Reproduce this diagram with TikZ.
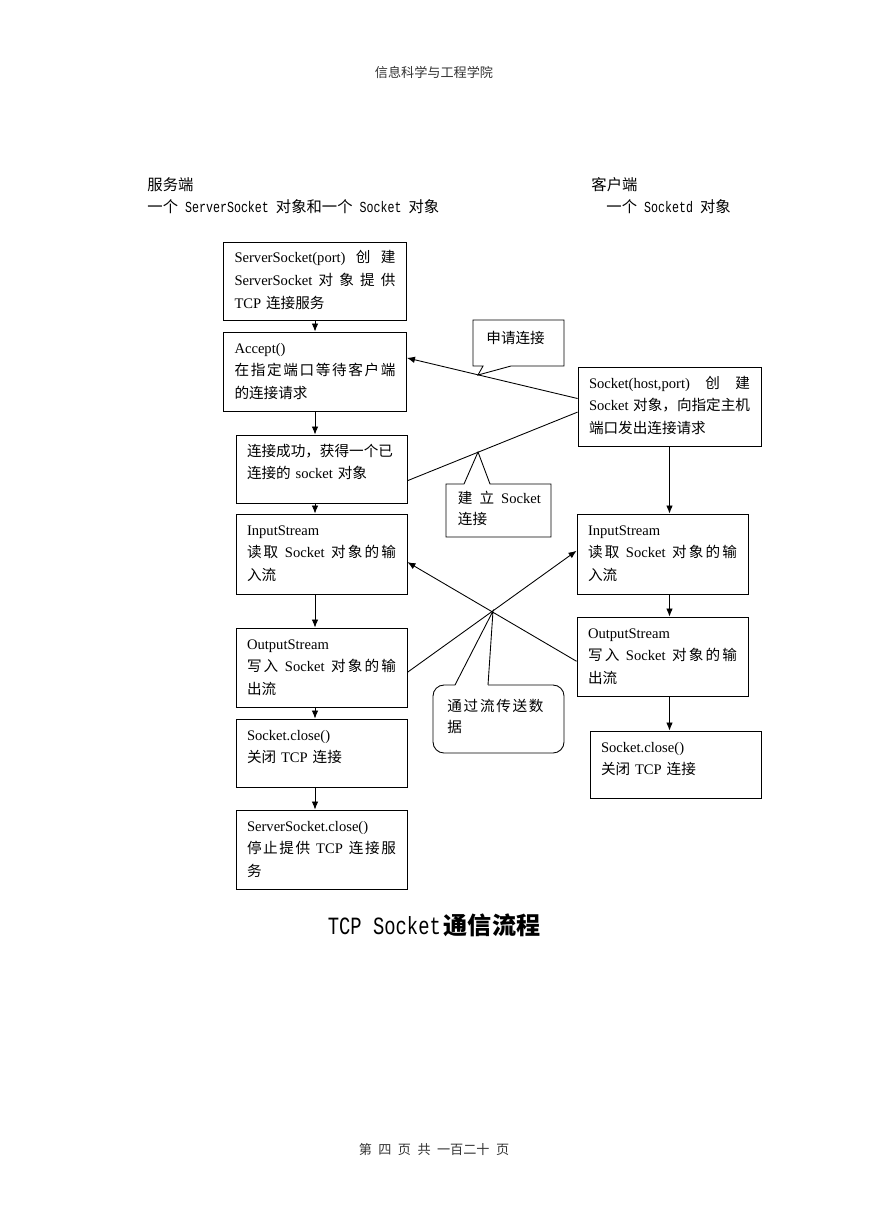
\documentclass[tikz,border=0pt]{standalone}
\usepackage{fontspec}
\setmainfont{Liberation Serif}
\newfontfamily\zhfont{Noto Sans CJK SC}
\newfontfamily\hdmono[FakeStretch=0.76]{Liberation Mono}
\usetikzlibrary{arrows.meta,calc}
\newdimen\px \px=0.685pt
\newcommand\zh[1]{{\zhfont #1}}
\newcommand\jl[1]{\makebox[\linewidth][s]{\spaceskip=0pt plus 1fil\xspaceskip=0pt plus 1fil\relax #1}}
\newcommand\wsp{\hspace{3pt plus 1fil}}

\begin{document}
\begin{tikzpicture}[x=0.685pt, y=-0.685pt, line width=0.6pt,
  box/.style={draw, inner xsep=11\px, inner ysep=0pt, text width=149\px, align=left,
    text height=21\px, font=\fontsize{10pt}{15.5pt}\selectfont},
  widebox/.style={box, text width=161\px},
  arr/.style={-{Latex[length=5.5pt,width=4.5pt]}},
  note/.style={inner sep=0pt, align=left, anchor=base west, font=\fontsize{10pt}{14.5pt}\selectfont},
  lbl/.style={inner sep=0pt, anchor=west, font=\fontsize{10.5pt}{12pt}\selectfont}]
\useasboundingbox (0,0) rectangle (869,1228);

% page head and foot
\node[inner sep=0pt, text=black!80, font=\fontsize{9pt}{11pt}\selectfont] (head) at (434,72) {\zh{信息科学与工程学院}};
\node[inner sep=0pt, text=black!80, font=\fontsize{9pt}{11pt}\selectfont] (foot) at (434,1149) {{\zhfont\spaceskip=4.4pt\relax 第 四 页 共 一百二十 页}};

% column heads
\node[lbl] (srvhead) at (147,185) {\zh{服务端}};
\node[lbl] (srvobj) at (147,207) {\zh{一个}{\hdmono\ ServerSocket\ }\zh{对象和一个}{\hdmono\ Socket\ }\zh{对象}};
\node[lbl] (clihead) at (591,185) {\zh{客户端}};
\node[lbl] (cliobj) at (606,207) {\zh{一个}{\hdmono\ Socketd\ }\zh{对象}};

% server side
\node[widebox, text depth=57\px] (srvnew) at (315,281) {\jl{ServerSocket(port) \zh{创} \zh{建}}\\ \jl{ServerSocket \zh{对 象 提 供}}\\ TCP \zh{连接服务}};
\node[widebox, text depth=58\px] (accept) at (315,371.5) {Accept()\\ \jl{\zh{在 指 定 端 口 等 待 客 户 端}}\\ \zh{的连接请求}};
\node[box, text depth=47\px] (conn) at (321.5,469) {\zh{连接成功，获得一个已}\\ \zh{连接的} socket \zh{对象}};
\node[box, text depth=59\px] (sin) at (321.5,554) {InputStream\\ \jl{\zh{读 取}\wsp Socket\wsp\zh{对 象 的 输}}\\ \zh{入流}};
\node[box, text depth=58\px] (sout) at (321.5,667.5) {OutputStream\\ \jl{\zh{写 入}\wsp Socket\wsp\zh{对 象 的 输}}\\ \zh{出流}};
\node[box, text depth=47\px] (sclose) at (321.5,753) {Socket.close()\\ \zh{关闭} TCP \zh{连接}};
\node[box, text depth=58\px] (srvclose) at (321.5,849.5) {ServerSocket.close()\\ \jl{\zh{停 止 提 供}\wsp TCP\wsp\zh{连 接 服}}\\ \zh{务}};

\draw[arr] (srvnew.south) -- (accept.north);
\draw[arr] (accept.south) -- (accept.south |- conn.north);
\draw[arr] (accept.south |- conn.south) -- (accept.south |- sin.north);
\draw[arr] (accept.south |- sin.south) -- (accept.south |- sout.north);
\draw[arr] (accept.south |- sout.south) -- (accept.south |- sclose.north);
\draw[arr] (accept.south |- sclose.south) -- (accept.south |- srvclose.north);

% client side
\node[widebox, text depth=58\px] (cnew) at (669.5,406.5) {\jl{Socket(host,port) \zh{创} \zh{建}}\\ \jl{Socket \zh{对象，向指定主机}}\\ \zh{端口发出连接请求}};
\node[box, text depth=59\px] (cin) at (662.5,554) {InputStream\\ \jl{\zh{读 取}\wsp Socket\wsp\zh{对 象 的 输}}\\ \zh{入流}};
\node[box, text depth=58\px] (cout) at (662.5,656.5) {OutputStream\\ \jl{\zh{写 入}\wsp Socket\wsp\zh{对 象 的 输}}\\ \zh{出流}};
\node[box, text depth=46\px] (cclose) at (675.5,764.5) {Socket.close()\\ \zh{关闭} TCP \zh{连接}};

\draw[arr] (cnew.south) -- (cnew.south |- cin.north);
\draw[arr] (cnew.south |- cin.south) -- (cnew.south |- cout.north);
\draw[arr] (cnew.south |- cout.south) -- (cnew.south |- cclose.north);

% between the two sides
\draw[arr] ($(cnew.north west)!0.4!(cnew.south west)$) -- ($(accept.north east)!0.33!(accept.south east)$);
\draw ($(conn.north east)!0.67!(conn.south east)$) -- ($(cnew.north west)!0.57!(cnew.south west)$);
\draw[arr] ($(sout.north east)!0.56!(sout.south east)$) -- ($(cin.north west)!0.46!(cin.south west)$);
\draw[arr] ($(cout.north west)!0.56!(cout.south west)$) -- ($(sin.north east)!0.6!(sin.south east)$);

% callouts
\draw (483,366) -- (473,366) -- (473,320) -- (564,320) -- (564,366) -- (511,366) -- (478,375) -- cycle;
\node[note] (ask) at (486,343.5) {\zh{申请连接}};
\draw (464,484) -- (446,484) -- (446,537) -- (551,537) -- (551,484) -- (490,484) -- (478,452) -- cycle;
\node[note, text width=83\px] (link) at (457.5,503.5) {\jl{\zh{建 立} Socket}\\ \zh{连接}};
\draw[rounded corners=11\px] (488,685) -- (564,685) -- (564,753) -- (433,753) -- (433,685) -- (455,685);
\draw (455,685) -- (493,611) -- (488,685);
\node[note, text width=96\px] (stream) at (447,711.5) {\jl{\zh{通 过 流 传 送 数}}\\ \zh{据}};

% title
\node[inner sep=0pt] (title) at (434,925) {{\fontsize{17pt}{20pt}\selectfont\hdmono TCP Socket}\hspace{2pt}{\fontsize{16.5pt}{20pt}\selectfont\zhfont\bfseries 通信流程}};

\end{tikzpicture}
\end{document}
